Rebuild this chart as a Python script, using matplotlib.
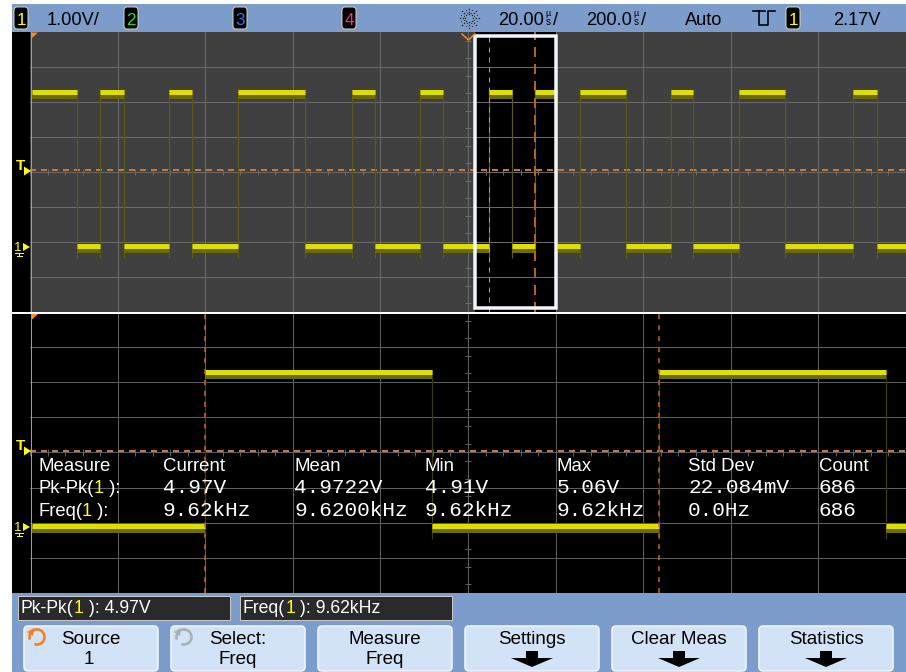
import matplotlib
matplotlib.use("Agg")
import matplotlib.pyplot as plt
from matplotlib import font_manager
from matplotlib.patches import Rectangle, FancyBboxPatch, Polygon, Arc
from matplotlib.transforms import blended_transform_factory
import numpy as np

# ---- scope settings / data ----
volts_per_div = 1.0
main_us_per_div = 200.0
zoom_us_per_div = 20.0
trigger_v = 2.17
center_v = 2.12
v_low, v_high = 0.0, 4.4

# channel 1, main (upper) window: edge times in us from left of screen, starts high
main_start_us = 5
main_edges_us = [107, 160, 215, 317, 370, 475, 628, 735, 788, 890, 943, 1048,
                 1100, 1153, 1203, 1256, 1361, 1463, 1514, 1619, 1724, 1879, 1934]
# zoomed (lower) window: edge times in us from left of screen, starts low
zoom_start_us = 0.5
zoom_edges_us = [40.0, 91.8, 143.6, 195.4]
zoom_window_us = (1015, 1202)
main_cursors_us = [1048, 1153]
zoom_cursors_us = [40.0, 143.6]

meas_headers = ["Measure", "Current", "Mean", "Min", "Max", "Std Dev", "Count"]
pkpk_values = ["4.97V", "4.9722V", "4.91V", "5.06V", "22.084mV", "686"]
freq_values = ["9.62kHz", "9.6200kHz", "9.62kHz", "9.62kHz", "0.0Hz", "686"]

readouts = [("Pk-Pk(", "1", " ): 4.97V"), ("Freq(", "1", " ): 9.62kHz")]
softkeys = [("Source", "1"), ("Select:", "Freq"), ("Measure", "Freq"),
            ("Settings", None), ("Clear Meas", None), ("Statistics", None)]

# ---- layout ----
W, H = 906, 672
PX = 0.72  # one pixel in points at dpi 100
BLUE = "#7c9dcb"
YEL = "#ffff00"

names = {f.name for f in font_manager.fontManager.ttflist}
if "Liberation Sans Narrow" in names:
    NARROW, NSCALE = "Liberation Sans Narrow", 1.0
else:
    NARROW, NSCALE = "Liberation Sans", 0.82
SANS = "Liberation Sans"
MONO = "Liberation Mono"

fig = plt.figure(figsize=(W / 100, H / 100), dpi=100, facecolor="white")


def frac(x0, y0, x1, y1):
    return [x0 / W, 1 - y1 / H, (x1 - x0) / W, (y1 - y0) / H]


def setup_panel(rect, us_per_div, bg, grid_c):
    ax = fig.add_axes(rect)
    ax.set_facecolor(bg)
    ylo = center_v - 4 * volts_per_div
    ax.set_xlim(0, 10 * us_per_div)
    ax.set_ylim(ylo, center_v + 4 * volts_per_div)
    for s in ax.spines.values():
        s.set_visible(False)
    ax.set_xticks([])
    ax.set_yticks([])
    for k in range(1, 10):
        ax.axvline(k * us_per_div, color=grid_c, lw=PX, zorder=1)
    for k in range(1, 8):
        ax.axhline(ylo + k * volts_per_div, color=grid_c, lw=PX, zorder=1)
    # small ticks on the centre lines
    tx = np.arange(0, 10 * us_per_div + 1e-6, us_per_div / 5)
    ax.vlines(tx, center_v - 0.09, center_v + 0.09, color=grid_c, lw=PX, zorder=1)
    ty = center_v + np.arange(-8, 8) * 0.5 + 0.25
    dx = 3 / 87.6 * us_per_div
    ax.hlines(ty, 5 * us_per_div - dx, 5 * us_per_div + dx, color=grid_c, lw=PX, zorder=1)
    ax.axhline(trigger_v, color="#c4783a", lw=2 * PX, dashes=(3, 2.5), zorder=2)
    return ax


def draw_trace(ax, start, edges, end, first_high, edge_col):
    bounds = np.array([start] + list(edges) + [end], dtype=float)
    n = len(bounds) - 1
    lev = np.where((np.arange(n) % 2 == 0) == first_high, v_high, v_low)
    ax.vlines(edges, v_low - 0.35, v_high + 0.08, color=edge_col, lw=1.2 * PX, zorder=3)
    ax.hlines(lev - 0.07, bounds[:-1], bounds[1:], color="#6a6a08", lw=8 * PX, zorder=4)
    ax.hlines(lev + 0.02, bounds[:-1], bounds[1:], color="#dede00", lw=5 * PX, zorder=5)


# upper (main) panel
ax_up = setup_panel(frac(30, 32, 906, 312), main_us_per_div, "#404040", "#6a6a6a")
ax_up.add_patch(Rectangle((zoom_window_us[0], center_v - 4), zoom_window_us[1] - zoom_window_us[0], 8,
                          fc="black", ec="none", zorder=0.5))
draw_trace(ax_up, main_start_us, main_edges_us, 10 * main_us_per_div, True, "#5a5a16")
ax_up.axvline(main_cursors_us[0], color="#e8903c", lw=PX, dashes=(5, 5), zorder=6)
ax_up.axvline(main_cursors_us[1], color="#b4621c", lw=2 * PX, dashes=(5, 3.5), zorder=6)
bt = blended_transform_factory(ax_up.transData, ax_up.transAxes)
ax_up.add_patch(Rectangle((zoom_window_us[0], 0.014), zoom_window_us[1] - zoom_window_us[0], 0.972,
                          transform=bt, fill=False, ec="#f2f6fc", lw=3.5 * PX, zorder=7))

# lower (zoomed) panel
ax_lo = setup_panel(frac(30, 312, 906, 593), zoom_us_per_div, "black", "#5e5e5e")
draw_trace(ax_lo, zoom_start_us, zoom_edges_us, 10 * zoom_us_per_div, False, "#3c3c10")
for c in zoom_cursors_us:
    ax_lo.axvline(c, color="#d06418", lw=1.5 * PX, dashes=(3.3, 4), zorder=6)

# ---- overlay in pixel coordinates ----
ov = fig.add_axes([0, 0, 1, 1], zorder=10)
ov.set_xlim(0, W)
ov.set_ylim(H, 0)
ov.axis("off")
ov.patch.set_visible(False)
R = fig.canvas.get_renderer()

ov.add_patch(Rectangle((12, 4), W - 12, 28, fc=BLUE, ec="none"))
ov.add_patch(Rectangle((12, 593), W - 12, H - 593, fc=BLUE, ec="none"))
ov.add_patch(Rectangle((12, 32), 18, 561, fc="black", ec="none"))
ov.plot([30.5, 30.5], [32, 593], color="#9c9c9c", lw=PX)
ov.plot([12, W], [313, 313], color="white", lw=2 * PX)


def runs(x, y, parts, size, family, va="baseline"):
    for s, c in parts:
        t = ov.text(x, y, s, color=c, fontsize=size, family=family, va=va, ha="left")
        x += t.get_window_extent(renderer=R).width
    return x


# top status bar
def chan_box(x, label, color):
    ov.add_patch(FancyBboxPatch((x, 7), 14, 22, boxstyle="round,pad=0,rounding_size=3",
                                fc="black", ec="#d6d2b4", lw=PX))
    ov.text(x + 7, 25, label, color=color, fontsize=15 * NSCALE, family=NARROW,
            ha="center", va="baseline")


chan_box(14, "1", YEL)
chan_box(124, "2", "#22e022")
chan_box(233, "3", "#2f6fff")
chan_box(342, "4", "#ff2a8a")
chan_box(786, "1", YEL)
top_fs = 16 * NSCALE
ov.text(47, 25, "1.00V/", fontsize=top_fs, family=NARROW, va="baseline")
for x0, num in [(498, "20.00"), (586, "200.0")]:
    x = runs(x0, 25, [(num, "black")], top_fs, NARROW)
    ov.text(x + 4, 16, "µ", fontsize=6.5, family=SANS, ha="center", va="baseline")
    ov.text(x + 4, 25, "s", fontsize=7, family=SANS, ha="center", va="baseline")
    ov.text(x + 9, 25, "/", fontsize=top_fs, family=NARROW, va="baseline")
ov.text(685, 25, "Auto", fontsize=top_fs, family=NARROW, va="baseline")
ov.text(833, 25, "2.17V", fontsize=top_fs, family=NARROW, va="baseline")
ov.plot([753, 765], [11, 11], color="black", lw=1.6 * PX)
ov.plot([759, 759, 768, 768, 775], [11, 25, 25, 11, 11], color="black", lw=1.6 * PX)
# acquisition "sun" icon
for a in np.deg2rad(np.arange(0, 360, 45)):
    r = np.array([4.0, 6.5, 9.5])
    ov.plot(469 + r * np.cos(a), 18 + r * np.sin(a), ls="none", marker="s", ms=0.9,
            mew=0, color="#1a1a1a")
for a in np.deg2rad(np.arange(22.5, 360, 45)):
    r = np.array([5.5, 8.5])
    ov.plot(469 + r * np.cos(a), 18 + r * np.sin(a), ls="none", marker="s", ms=0.8,
            mew=0, color="#3a3a3a")

# panel markers
for y0 in (32, 313.5):
    ov.add_patch(Polygon([[31, y0 + 0.5], [38, y0 + 0.5], [31, y0 + 7]], closed=True, fc="#ff8c1a", ec="none"))
ov.plot([462, 468.5, 475], [34, 40, 34], color="#ff8c1a", lw=1.5 * PX)
for yt, yg in [(170.5, 247), (450.5, 527)]:
    ov.text(21, yt + 2, "T", color=YEL, fontsize=11, family=SANS, weight="bold", ha="center", va="bottom")
    ov.add_patch(Polygon([[24, yt - 4], [24, yt + 5], [31, yt + 0.5]], closed=True, fc=YEL, ec="none"))
    ov.text(18, yg + 4, "1", color=YEL, fontsize=9.5, family=SANS, ha="center", va="baseline")
    ov.add_patch(Polygon([[23, yg - 4], [23, yg + 4], [30, yg]], closed=True, fc=YEL, ec="none"))
    ov.plot([15, 23], [yg + 6, yg + 6], color=YEL, lw=PX)
    ov.plot([19, 19], [yg + 6, yg + 9], color=YEL, lw=PX)
    ov.plot([16.5, 21.5], [yg + 9, yg + 9], color=YEL, lw=PX)

# measurement statistics table
col_x = [38, 163, 294, 425, 557, 688, 819]
for x, h in zip(col_x, meas_headers):
    ov.text(x, 471, h, color="white", fontsize=13.4, family=SANS, va="baseline")
runs(col_x[0], 493, [("Pk-Pk(", "white"), ("1", YEL), (" ):", "white")], 13.2, SANS)
runs(col_x[0], 516, [("Freq(", "white"), ("1", YEL), (" ):", "white")], 13.2, SANS)
for x, a, b in zip(col_x[1:], pkpk_values, freq_values):
    ov.text(x, 493, a, color="white", fontsize=15.2, family=MONO, va="baseline")
    ov.text(x, 516, b, color="white", fontsize=15.2, family=MONO, va="baseline")

# bottom readouts
for x0, (pre, num, post) in zip([18, 240], readouts):
    ov.add_patch(Rectangle((x0, 595.5), 212, 24, fc="#2a2a2a", ec="#c8c8c8", lw=PX))
    runs(x0 + 3, 613, [(pre, "white"), (num, YEL), (post, "white")], 15.5 * NSCALE, NARROW)

# softkeys
key_x = [24, 171, 318, 465, 612, 759]
for i, (x0, (l1, l2)) in enumerate(zip(key_x, softkeys)):
    ov.add_patch(FancyBboxPatch((x0, 626), 134, 45, boxstyle="round,pad=0,rounding_size=4",
                                fc="#d3e3f7", ec="#f4f8ff", lw=1.5 * PX))
    cx = x0 + 67
    ov.text(cx, 644, l1, fontsize=13.5, family=SANS, ha="center", va="baseline")
    if l2 is not None:
        ov.text(cx + (0 if i else -2), 664, l2, fontsize=13.5, family=SANS, ha="center", va="baseline")
    else:
        ov.add_patch(Polygon([[cx - 6, 651], [cx + 6, 651], [cx + 6, 658], [cx + 21, 658],
                              [cx, 667], [cx - 21, 658], [cx - 6, 658]], closed=True, fc="black", ec="none"))
# rotary knob icons
for (ix, col) in [(37, "#f08020"), (184, "#a8b0b8")]:
    ov.add_patch(Arc((ix, 637), 15, 15, theta1=-200, theta2=110, color=col, lw=2.6 * PX))
    ov.add_patch(Polygon([[ix - 10, 632], [ix - 3, 628], [ix - 4, 636]], closed=True, fc=col, ec="none"))

fig.savefig("out.png", dpi=100, facecolor="white")
